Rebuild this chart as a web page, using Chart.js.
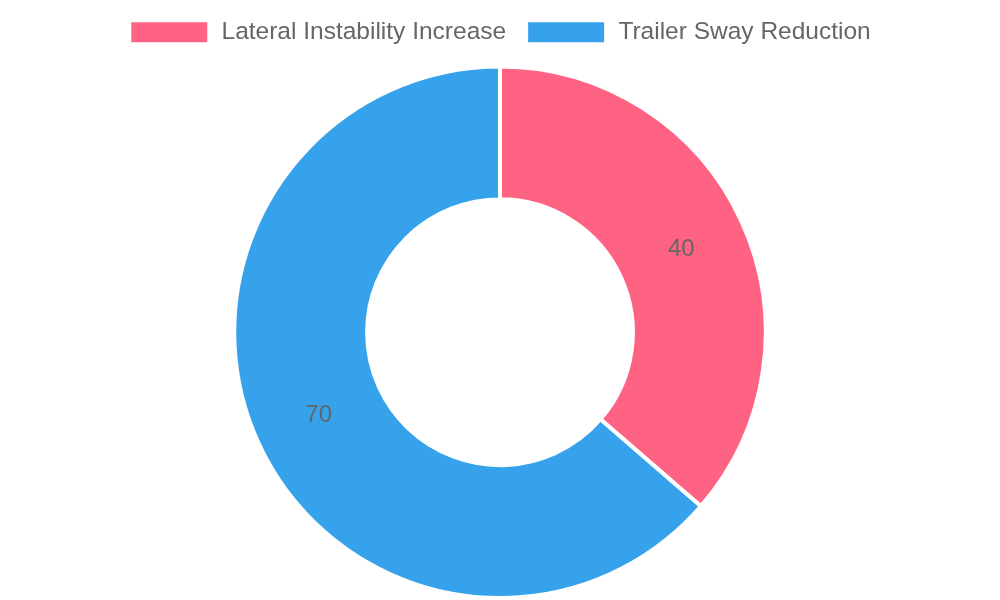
<!DOCTYPE html>
<html>
<head>
<meta charset="utf-8">
<script src="https://cdn.jsdelivr.net/npm/chart.js@4"></script>
<style>
  html, body { margin: 0; padding: 0; background: #fff; }
  #wrap { width: 1000px; height: 600px; }
</style>
</head>
<body>
<div id="wrap"><canvas id="grafico"></canvas></div>
<script>
const categorias = ['Lateral Instability Increase', 'Trailer Sway Reduction'];
const valores = [40, 70];
const colores = ['#FF6384', '#36A2EB'];

// etiquetas dentro de cada segmento
const etiquetasPlugin = {
    id: 'etiquetas',
    afterDatasetsDraw(chart) {
        const ctx = chart.ctx;
        const meta = chart.getDatasetMeta(0);
        ctx.save();
        ctx.font = '24px "Liberation Sans", Arial, sans-serif';
        ctx.fillStyle = '#666';
        ctx.textAlign = 'center';
        ctx.textBaseline = 'middle';
        meta.data.forEach((arc, i) => {
            const pos = arc.tooltipPosition();
            ctx.fillText(String(chart.data.datasets[0].data[i]), pos.x, pos.y);
        });
        ctx.restore();
    }
};

// un poco mas de espacio debajo de la leyenda
const espacioLeyenda = {
    id: 'espacioLeyenda',
    beforeInit(chart) {
        const fitOriginal = chart.legend.fit;
        chart.legend.fit = function () {
            fitOriginal.bind(chart.legend)();
            this.height += 10;
        };
    }
};

new Chart(document.getElementById('grafico').getContext('2d'), {
    type: 'doughnut',
    data: {
        labels: categorias,
        datasets: [{
            data: valores,
            backgroundColor: colores,
            borderColor: '#fff',
            borderWidth: 4
        }]
    },
    options: {
        responsive: true,
        maintainAspectRatio: false,
        animation: false,
        cutout: '50%',
        plugins: {
            legend: {
                display: true,
                position: 'top',
                labels: {
                    boxWidth: 80,
                    boxHeight: 24,
                    padding: 20,
                    color: '#666',
                    font: { size: 24.5, family: '"Liberation Sans", Arial, sans-serif' }
                }
            },
            tooltip: { enabled: false }
        }
    },
    plugins: [etiquetasPlugin, espacioLeyenda]
});
</script>
</body>
</html>
